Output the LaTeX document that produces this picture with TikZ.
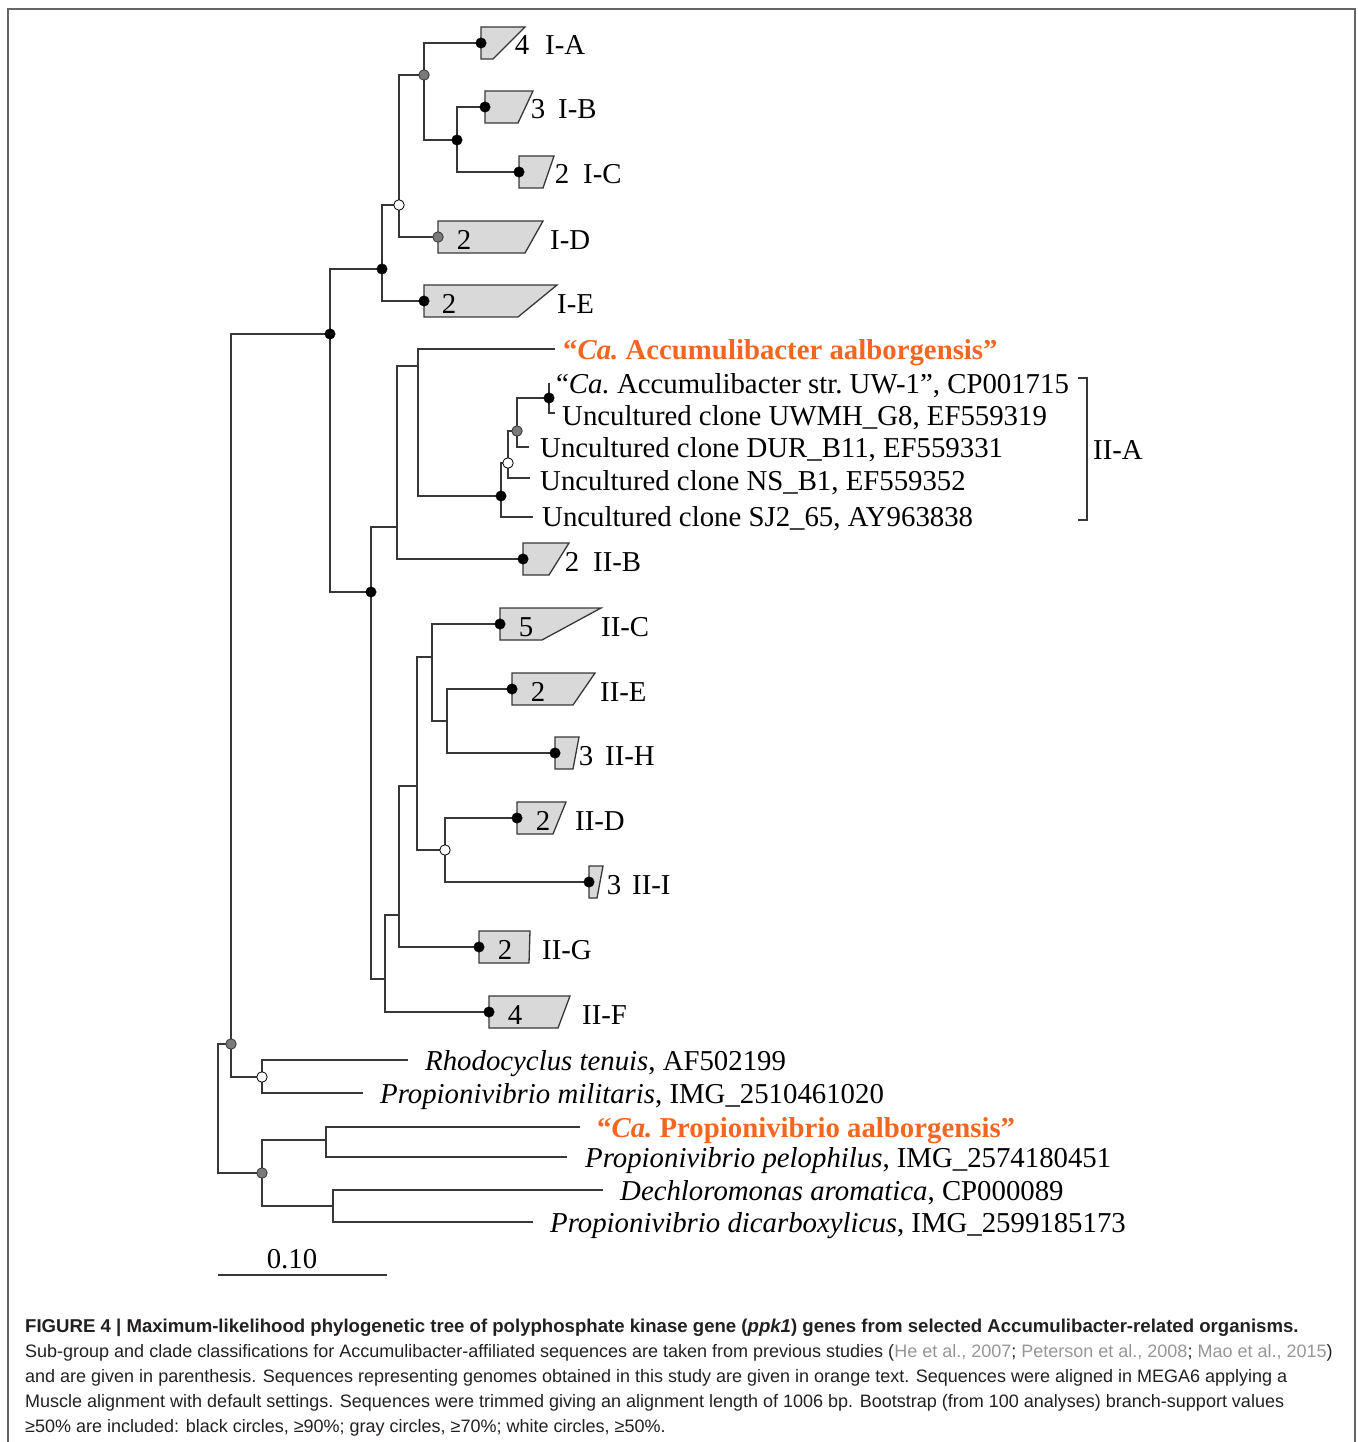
\documentclass[tikz,border=0pt]{standalone}
\usepackage{fontspec}
\setmainfont{Liberation Serif}
\setsansfont{Liberation Sans}
\usetikzlibrary{positioning,calc}

\definecolor{orangetxt}{RGB}{241,103,34}
\definecolor{inkgray}{RGB}{55,55,55}
\definecolor{refgray}{RGB}{150,150,150}
\definecolor{cladefill}{RGB}{217,217,217}
\definecolor{captxt}{RGB}{35,31,32}

\tikzset{
  branch/.style={draw=inkgray, line width=1.4pt},
  bs90/.style={circle, fill=black, draw=black, inner sep=0pt, minimum size=10.5pt},
  bs70/.style={circle, fill=black!52, draw=black!80, line width=0.8pt, inner sep=0pt, minimum size=10.5pt},
  bs50/.style={circle, fill=white, draw=black, line width=0.8pt, inner sep=0pt, minimum size=10.5pt},
  cladebox/.style={draw=inkgray, fill=cladefill, line width=1.3pt},
  taxon/.style={inner sep=0pt, text height=20pt, text depth=6pt, yshift=-3pt,
    font=\fontsize{28.8}{32}\selectfont},
  ownseq/.style={taxon, text=orangetxt, font=\fontsize{28.8}{32}\selectfont\bfseries},
}

\begin{document}
\begin{tikzpicture}[x=1pt, y=-1pt]
    \useasboundingbox (0,0) rectangle (1357,1442);
    % Figure frame
    \draw[black!60, line width=1.6pt] (8,1442) -- (8,9) -- (1355,9) -- (1355,1442);

    % Tree nodes
    \coordinate (root) at (218,1108);
    \coordinate (nA) at (231,1044);
    \coordinate (nRP) at (262,1077);
    \coordinate (nB) at (262,1173);
    \coordinate (nP1) at (326,1140);
    \coordinate (nP2) at (333,1206);
    \coordinate (nIn) at (330,334);
    \coordinate (nI) at (382,269);
    \coordinate (nI1) at (399,205);
    \coordinate (nI2) at (424,75);
    \coordinate (nI3) at (457,140);
    \coordinate (nII) at (371,592);
    \coordinate (nII1) at (397,527);
    \coordinate (nII3) at (418,366);
    \coordinate (nIIA) at (501,496);
    \coordinate (nIIA1) at (508,463);
    \coordinate (nIIA2) at (517,431);
    \coordinate (nIIA3) at (549,398);
    \coordinate (nII2) at (385,979);
    \coordinate (nII4) at (399,915);
    \coordinate (nII5) at (417,786);
    \coordinate (nII6) at (432,657);
    \coordinate (nII7) at (445,850);
    \coordinate (nII8) at (447,721);

    % Collapsed clades
    \coordinate (cIA) at (481,43);
    \coordinate (cIB) at (485,107);
    \coordinate (cIC) at (519,172);
    \coordinate (cID) at (438,237);
    \coordinate (cIE) at (424,301);
    \coordinate (cIIB) at (523,559);
    \coordinate (cIIC) at (500,624);
    \coordinate (cIIE) at (512,689);
    \coordinate (cIIH) at (555,753);
    \coordinate (cIID) at (517,818);
    \coordinate (cIII) at (589,882);
    \coordinate (cIIG) at (479,947);
    \coordinate (cIIF) at (489,1012);

    % Tips
    \coordinate (tCaA) at (555,349);
    \coordinate (tUW) at (549,383);
    \coordinate (tUWMH) at (552,413);
    \coordinate (tDUR) at (529,447);
    \coordinate (tNS) at (530,478);
    \coordinate (tSJ) at (533,517);
    \coordinate (tRt) at (408,1060);
    \coordinate (tPm) at (363,1093);
    \coordinate (tCaP) at (580,1127);
    \coordinate (tPp) at (567,1157);
    \coordinate (tDa) at (603,1190);
    \coordinate (tPd) at (533,1222);

    % Branches
    \foreach \p/\c in {root/nA, root/nB, nA/nIn, nA/nRP, nRP/tRt, nRP/tPm,
        nB/nP1, nB/nP2, nP1/tCaP, nP1/tPp, nP2/tDa, nP2/tPd,
        nIn/nI, nIn/nII, nI/nI1, nI/cIE, nI1/nI2, nI1/cID, nI2/cIA, nI2/nI3,
        nI3/cIB, nI3/cIC, nII/nII1, nII/nII2, nII1/nII3, nII1/cIIB,
        nII3/tCaA, nII3/nIIA, nIIA/tSJ, nIIA/nIIA1, nIIA1/tNS, nIIA1/nIIA2,
        nIIA2/tDUR, nIIA2/nIIA3, nIIA3/tUW, nIIA3/tUWMH,
        nII2/nII4, nII2/cIIF, nII4/nII5, nII4/cIIG, nII5/nII6, nII5/nII7,
        nII6/cIIC, nII6/nII8, nII8/cIIE, nII8/cIIH, nII7/cIID, nII7/cIII}
        \draw[branch] (\p) |- (\c);
    \draw[branch] (tUWMH) -- ++(3,0);

    % Clade boxes with sizes and names
    \foreach \c/\tr/\br/\nx/\num/\lx/\lab in {
        cIA/44/12/41/4/64/I-A, cIB/48/33/53/3/73/I-B, cIC/35/24/43/2/64/I-C,
        cID/105/87/26/2/112/I-D, cIE/133/94/25/2/133/I-E,
        cIIB/46/26/49/2/70/II-B, cIIC/101/42/26/5/101/II-C,
        cIIE/83/61/26/2/88/II-E, cIIH/24/18/31/3/50/II-H,
        cIID/49/36/26/2/58/II-D, cIII/14/8/25/3/43/II-I,
        cIIG/51/50/26/2/63/II-G, cIIF/81/69/26/4/93/II-F}
    {
        \draw[cladebox] ($(\c)+(0,-16)$) -- ($(\c)+(\tr,-16)$)
            -- ($(\c)+(\br,16)$) -- ($(\c)+(0,16)$) -- cycle;
        \node[taxon, yshift=-2pt] (num\c) at ($(\c)+(\nx,0)$) {\num};
        \node[taxon, anchor=west, yshift=-2pt] (lab\c) at ($(\c)+(\lx,0)$) {\lab};
    }

    % Bootstrap support
    \foreach \n in {nIn, nI, nI3, cIA, cIB, cIC, cIE, nII, cIIB, nIIA, nIIA3,
        cIIC, cIIE, cIIH, cIID, cIII, cIIG, cIIF}
        \node[bs90] (d\n) at (\n) {};
    \foreach \n in {nA, nB, nI2, cID, nIIA2}
        \node[bs70] (d\n) at (\n) {};
    \foreach \n in {nI1, nRP, nIIA1, nII7}
        \node[bs50] (d\n) at (\n) {};

    % Taxon labels
    \node[ownseq, right=8pt of tCaA] (lCaA) {“\textit{Ca.}\ Accumulibacter aalborgensis”};
    \node[taxon, right=7pt of tUW] (lUW) {“\textit{Ca.}\ Accumulibacter str.\ UW-1”, CP001715};
    \node[taxon, right=10pt of tUWMH, yshift=-2pt] (lUWMH) {Uncultured clone UWMH\_G8, EF559319};
    \node[taxon, right=11pt of tDUR] (lDUR) {Uncultured clone DUR\_B11, EF559331};
    \node[taxon, right=10pt of tNS, yshift=-2pt] (lNS) {Uncultured clone NS\_B1, EF559352};
    \node[taxon, right=9pt of tSJ, yshift=1pt] (lSJ) {Uncultured clone SJ2\_65, AY963838};
    \node[taxon, right=17pt of tRt] (lRt) {\textit{Rhodocyclus tenuis}, AF502199};
    \node[taxon, right=17pt of tPm] (lPm) {\textit{Propionivibrio militaris}, IMG\_2510461020};
    \node[ownseq, right=17pt of tCaP] (lCaP) {“\textit{Ca.}\ Propionivibrio aalborgensis”};
    \node[taxon, right=18pt of tPp] (lPp) {\textit{Propionivibrio pelophilus}, IMG\_2574180451};
    \node[taxon, right=17pt of tDa] (lDa) {\textit{Dechloromonas aromatica}, CP000089};
    \node[taxon, right=17pt of tPd] (lPd) {\textit{Propionivibrio dicarboxylicus}, IMG\_2599185173};

    % Sub-group II-A bracket
    \coordinate (bA1) at (1078,378);
    \coordinate (bA2) at (1087,378);
    \coordinate (bA3) at (1087,520);
    \coordinate (bA4) at (1078,520);
    \coordinate (bAm) at (1087,449);
    \draw[branch, line width=1.2pt] (bA1) -- (bA2) -- (bA3) -- (bA4);
    \node[taxon, right=6pt of bAm] (labIIA) {II-A};

    % Scale bar
    \coordinate (sb1) at (218,1275);
    \coordinate (sb2) at (387,1275);
    \draw[branch] (sb1) -- (sb2);
    \node[taxon, yshift=1pt] (sblab) at (292,1259) {0.10};

    % Caption
    \node[anchor=north west, inner sep=0pt, align=left, text=captxt,
          font=\sffamily\fontsize{18}{25}\selectfont] (caption) at (25,1319) {%
        {\fontsize{18.6}{25}\selectfont\textbf{FIGURE 4 | Maximum-likelihood phylogenetic tree of polyphosphate kinase gene (\textit{ppk1}) genes from selected Accumulibacter-related organisms.}}\\
        Sub-group and clade classifications for Accumulibacter-affiliated sequences are taken from previous studies ({\color{refgray}He et al., 2007}; {\color{refgray}Peterson et al., 2008}; {\color{refgray}Mao et al., 2015})\\
        and are given in parenthesis. Sequences representing genomes obtained in this study are given in orange text. Sequences were aligned in MEGA6 applying a\\
        Muscle alignment with default settings. Sequences were trimmed giving an alignment length of 1006 bp. Bootstrap (from 100 analyses) branch-support values\\
        ≥50\% are included: black circles, ≥90\%; gray circles, ≥70\%; white circles, ≥50\%.};
\end{tikzpicture}
\end{document}
